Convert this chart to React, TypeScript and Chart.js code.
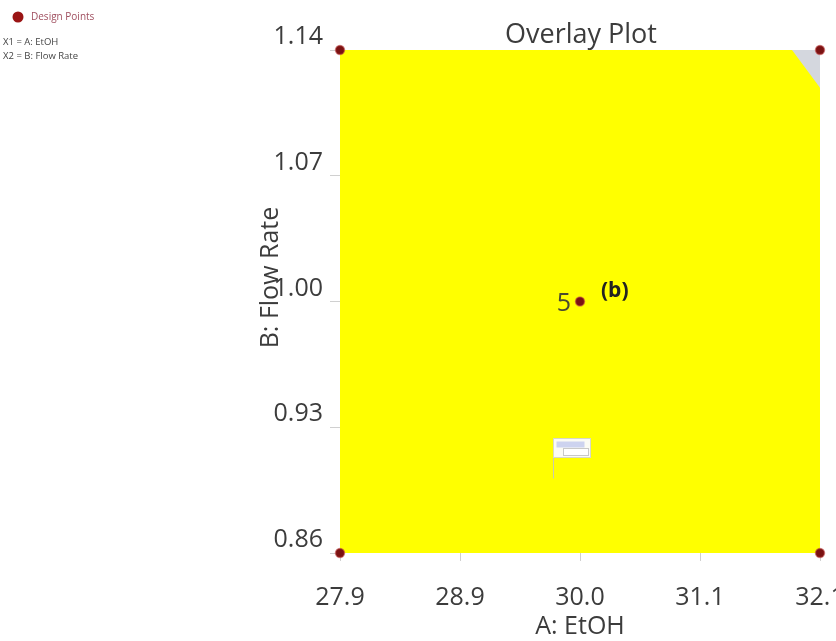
import React, { useEffect, useRef } from 'react';
import { Chart, registerables } from 'chart.js';

Chart.register(...registerables);

// ---- data ----
const xTicks = [27.9, 28.95, 30.0, 31.05, 32.1];
const xTickLabels = ['27.9', '28.9', '30.0', '31.1', '32.1'];
const yTicks = [0.86, 0.93, 1.0, 1.07, 1.14];
const yTickLabels = ['0.86', '0.93', '1.00', '1.07', '1.14'];

const designX = [27.9, 32.1, 27.9, 32.1, 30.0];
const designY = [0.86, 0.86, 1.14, 1.14, 1.0];
const designLabels = ['', '', '', '', '5'];

const feasibleX = [27.9, 31.855, 32.1];
const feasibleY = [1.14, 1.14, 1.119];
const infeasibleX = [31.855, 32.1];
const infeasibleY = [1.14, 1.14];

const flagX = [29.765];
const flagY = [0.902];

const annotationText = '(b)';
const chartTitle = 'Overlay Plot';
const xTitle = 'A: EtOH';
const yTitle = 'B: Flow Rate';
const legendItems = ['Design Points'];
const factorLines = ['X1 = A: EtOH', 'X2 = B: Flow Rate'];

const FONT = '"Open Sans", "Noto Sans", sans-serif';
const TEXT = '#3c3c3c';

const overlayPlugin = {
  id: 'overlayPlugin',
  afterDatasetsDraw(chart: any) {
    const ctx = chart.ctx;
    const xs = chart.scales.x;
    const ys = chart.scales.y;
    // flag marker
    flagX.forEach((fx, i) => {
      const px = Math.round(xs.getPixelForValue(fx)) + 0.5;
      const py = Math.round(ys.getPixelForValue(flagY[i])) + 0.5;
      ctx.save();
      ctx.strokeStyle = '#c9c9b0';
      ctx.lineWidth = 1;
      ctx.beginPath();
      ctx.moveTo(px, py);
      ctx.lineTo(px, py - 40);
      ctx.stroke();
      ctx.fillStyle = '#fbfbf4';
      ctx.fillRect(px, py - 40, 37, 19);
      ctx.strokeStyle = '#d8d8c8';
      ctx.strokeRect(px, py - 40, 37, 19);
      ctx.fillStyle = '#cdd3ef';
      ctx.fillRect(px + 3, py - 37, 28, 6);
      ctx.fillStyle = '#ffffff';
      ctx.fillRect(px + 10, py - 30, 25, 7);
      ctx.strokeStyle = '#c8c8c8';
      ctx.strokeRect(px + 10, py - 30, 25, 7);
      ctx.restore();
    });
    // point labels
    ctx.save();
    designX.forEach((dx, i) => {
      if (!designLabels[i]) return;
      const px = xs.getPixelForValue(dx);
      const py = ys.getPixelForValue(designY[i]);
      ctx.font = `25px ${FONT}`;
      ctx.fillStyle = '#4a4a30';
      ctx.textAlign = 'right';
      ctx.textBaseline = 'middle';
      ctx.fillText(designLabels[i], px - 9, py + 2);
      ctx.font = `bold 21px ${FONT}`;
      ctx.fillStyle = '#222222';
      ctx.textAlign = 'left';
      ctx.fillText(annotationText, px + 21, py - 10);
    });
    ctx.restore();
  },
  afterDraw(chart: any) {
    const ctx = chart.ctx;
    const ca = chart.chartArea;
    ctx.save();
    // title
    ctx.fillStyle = TEXT;
    ctx.font = `27px ${FONT}`;
    ctx.textAlign = 'center';
    ctx.textBaseline = 'middle';
    ctx.fillText(chartTitle, (ca.left + ca.right) / 2 + 1, ca.top - 15);
    // x title
    ctx.font = `25px ${FONT}`;
    ctx.fillText(xTitle, (ca.left + ca.right) / 2, ca.bottom + 74);
    // y title
    ctx.save();
    ctx.translate(ca.left - 69, (ca.top + ca.bottom) / 2 - 24);
    ctx.rotate(-Math.PI / 2);
    ctx.fillText(yTitle, 0, 0);
    ctx.restore();
    // legend
    ctx.fillStyle = '#9a1414';
    ctx.beginPath();
    ctx.arc(18, 17, 5.5, 0, Math.PI * 2);
    ctx.fill();
    ctx.font = `10px ${FONT}`;
    ctx.textAlign = 'left';
    ctx.fillStyle = '#a05060';
    ctx.fillText(legendItems[0], 31, 17);
    ctx.fillStyle = '#444444';
    ctx.font = `9.5px ${FONT}`;
    factorLines.forEach((t, i) => ctx.fillText(t, 3, 42 + i * 14));
    ctx.restore();
  },
};

export default function App() {
  const ref = useRef<HTMLCanvasElement | null>(null);
  useEffect(() => {
    if (!ref.current) return;
    const chart = new Chart(ref.current, {
      type: 'scatter',
      data: {
        datasets: [
          {
            label: 'Design Points',
            data: designX.map((x, i) => ({ x, y: designY[i] })),
            pointRadius: 4.5,
            pointBackgroundColor: '#7a1212',
            pointBorderColor: 'rgba(190,70,70,0.55)',
            pointBorderWidth: 1.5,
            clip: false,
          } as any,
          {
            label: 'Feasible',
            data: feasibleX.map((x, i) => ({ x, y: feasibleY[i] })),
            showLine: true,
            fill: 'start',
            backgroundColor: '#ffff00',
            borderWidth: 0,
            pointRadius: 0,
          } as any,
          {
            label: 'Infeasible',
            data: infeasibleX.map((x, i) => ({ x, y: infeasibleY[i] })),
            showLine: true,
            fill: 'start',
            backgroundColor: '#d4d7de',
            borderWidth: 0,
            pointRadius: 0,
          } as any,
        ],
      },
      options: {
        animation: false,
        responsive: false,
        layout: { padding: { left: 0, right: 16, top: 50, bottom: 0 } },
        plugins: { legend: { display: false }, tooltip: { enabled: false } },
        scales: {
          x: {
            type: 'linear',
            min: 27.9,
            max: 32.1,
            afterBuildTicks: (s: any) => {
              s.ticks = xTicks.map((v) => ({ value: v }));
            },
            afterFit: (s: any) => {
              s.height = 88;
              s.paddingLeft = 0;
              s.paddingRight = 0;
            },
            border: { display: false },
            grid: { drawOnChartArea: false, tickLength: 8, color: '#d0d0d0' },
            ticks: {
              padding: 22,
              color: TEXT,
              font: { family: FONT, size: 25 },
              maxRotation: 0,
              autoSkip: false,
              callback: (_v: any, i: number) => xTickLabels[i],
            },
          },
          y: {
            type: 'linear',
            min: 0.86,
            max: 1.14,
            afterBuildTicks: (s: any) => {
              s.ticks = yTicks.map((v) => ({ value: v }));
            },
            afterFit: (s: any) => {
              s.width = 340;
              s.paddingTop = 0;
              s.paddingBottom = 0;
            },
            border: { display: false },
            grid: { drawOnChartArea: false, tickLength: 10, color: '#d0d0d0' },
            ticks: {
              padding: 7,
              labelOffset: -13,
              color: TEXT,
              font: { family: FONT, size: 25 },
              autoSkip: false,
              callback: (_v: any, i: number) => yTickLabels[i],
            },
          },
        },
      },
      plugins: [overlayPlugin],
    } as any);
    return () => chart.destroy();
  }, []);
  return (
    <div style={{ position: 'fixed', left: 0, top: 0, width: 836, height: 641, background: '#fff' }}>
      <canvas ref={ref} width={836} height={641} />
    </div>
  );
}
